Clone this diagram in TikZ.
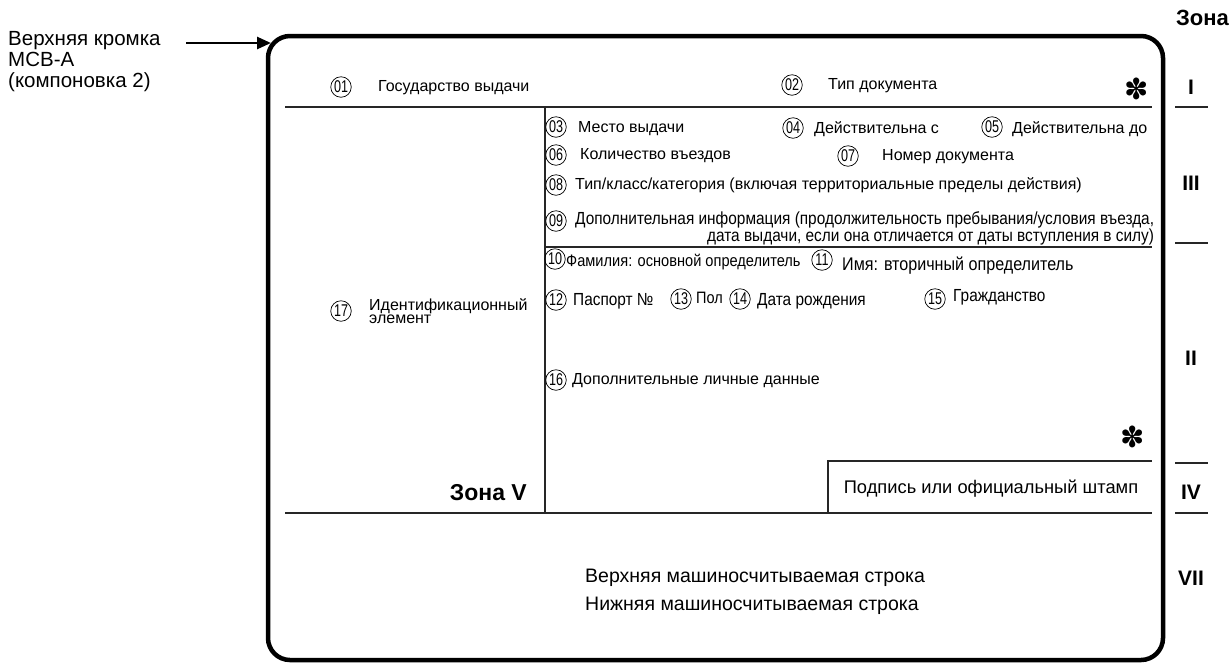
\documentclass[tikz,border=0pt]{standalone}
\usepackage{fontspec}
\setmainfont{Liberation Sans}
\newfontfamily\narrow[FakeStretch=0.88]{Liberation Sans}
\newfontfamily\digits[FakeStretch=0.74]{Liberation Sans}
\newfontfamily\symfont{DejaVu Sans}
\usetikzlibrary{arrows.meta}
\begin{document}
\begin{tikzpicture}[x=1pt,y=-1pt,
  numc/.style={circle, draw, line width=0.7, inner sep=0, minimum size=20.5,
    font=\digits\fontsize{17}{17}\selectfont},
  lbl/.style={anchor=west, inner sep=0, font=\fontsize{16}{18}\selectfont},
  nlbl/.style={anchor=west, inner sep=0, font=\narrow\fontsize{17.5}{18}\selectfont},
  zone/.style={inner sep=0, font=\bfseries\fontsize{21}{21}\selectfont},
  rule/.style={line width=1.2, black!85},
  zrule/.style={line width=1.2, black!85},
  star/.style={inner sep=0, font=\symfont\fontsize{29}{29}\selectfont}]
\useasboundingbox (0,0) rectangle (1230,665);

% document frame
\node[draw, rectangle, rounded corners=22, line width=4.5,
      minimum width=895, minimum height=624, inner sep=0] (frame) at (715.5,348) {};
\coordinate (edge) at (271,43);

% top-edge callout
\node[anchor=north west, inner sep=0, align=left,
      font=\fontsize{20.5}{21}\selectfont] (note) at (8,31)
  {Верхняя кромка\\МСВ-А\\(компоновка 2)};
\coordinate (noteend) at (186,43);
\draw[line width=2.6, -{Triangle[length=14, width=12]}] (noteend) -- (edge);

% internal rules
\coordinate (r1a) at (285,107);  \coordinate (r1b) at (1152,107);
\coordinate (r2a) at (545,247);  \coordinate (r2b) at (1152,247);
\coordinate (r3a) at (285,513);  \coordinate (r3b) at (1152,513);
\coordinate (v1a) at (545,107);  \coordinate (v1b) at (545,513);
\coordinate (sa) at (828,461);   \coordinate (sb) at (1152,461);
\coordinate (sc) at (828,513);
\draw[rule] (r1a) -- (r1b);
\draw[rule] (r2a) -- (r2b);
\draw[rule] (r3a) -- (r3b);
\draw[rule] (v1a) -- (v1b);
\draw[rule] (sc) -- (sa) -- (sb);

% zone I
\node[numc] (n01) at (341,87) {01};
\node[lbl] (t01) at (378,88) {Государство выдачи};
\node[numc] (n02) at (792,85) {02};
\node[lbl] (t02) at (828,86) {Тип документа};
\node[star] (st1) at (1137,89) {✽};

% zone III
\node[numc] (n03) at (556,127) {03};
\node[lbl] (t03) at (578,129) {Место выдачи};
\node[numc] (n04) at (793,128) {04};
\node[lbl] (t04) at (814,129) {Действительна с};
\node[numc] (n05) at (992,127) {05};
\node[lbl] (t05) at (1012,129) {Действительна до};
\node[numc] (n06) at (556,155) {06};
\node[lbl] (t06) at (580,156) {Количество въездов};
\node[numc] (n07) at (848,156) {07};
\node[lbl] (t07) at (882,157) {Номер документа};
\node[numc] (n08) at (556,185) {08};
\node[lbl] (t08) at (575,185) {Тип/класс/категория (включая территориальные пределы действия)};
\node[numc] (n09) at (556,221) {09};
\node[anchor=north west, inner sep=0, align=right,
      font=\narrow\fontsize{17.5}{14.5}\selectfont] (t09) at (575,211)
  {Дополнительная информация (продолжительность пребывания/условия въезда,\\
   дата выдачи, если она отличается от даты вступления в силу)};

% zone II
\node[numc] (n10) at (555,259) {10};
\node[nlbl, font=\narrow\fontsize{16.6}{18}\selectfont] (t10) at (566,262) {Фамилия: основной определитель};
\node[numc] (n11) at (822,260) {11};
\node[nlbl, font=\narrow\fontsize{18.3}{18}\selectfont] (t11) at (842,266) {Имя: вторичный определитель};
\node[numc] (n12) at (556,300) {12};
\node[nlbl] (t12) at (573,301) {Паспорт №};
\node[numc] (n13) at (681,299) {13};
\node[nlbl, font=\narrow\fontsize{16.5}{18}\selectfont] (t13) at (696,298) {Пол};
\node[numc] (n14) at (740,299) {14};
\node[nlbl] (t14) at (757,301) {Дата рождения};
\node[numc] (n15) at (935,299) {15};
\node[nlbl] (t15) at (953,297) {Гражданство};
\node[numc] (n16) at (556,380) {16};
\node[lbl] (t16) at (572,381) {Дополнительные личные данные};
\node[star] (st2) at (1133,437) {✽};

% zone IV
\node[inner sep=0, font=\fontsize{18.3}{18}\selectfont] (t18) at (991,489)
  {Подпись или официальный штамп};

% zone V
\node[numc] (n17) at (341,311) {17};
\node[anchor=west, inner sep=0, align=left,
      font=\fontsize{16}{12.5}\selectfont] (t17) at (369,311)
  {Идентификационный\\элемент};
\node[zone, font=\bfseries\fontsize{23}{23}\selectfont, anchor=east] (zv) at (527,493) {Зона V};

% zone VII
\node[anchor=west, inner sep=0, font=\fontsize{19.5}{20}\selectfont] (mrz1) at (585,578) {Верхняя машиносчитываемая строка};
\node[anchor=west, inner sep=0, font=\fontsize{19.5}{20}\selectfont] (mrz2) at (585,606) {Нижняя машиносчитываемая строка};

% zone index at the right
\node[zone, anchor=east, font=\bfseries\fontsize{22}{22}\selectfont] (zt) at (1229,18) {Зона};
\node[zone] (z1) at (1191,87) {I};
\node[zone] (z3) at (1191,183) {III};
\node[zone] (z2) at (1191,358) {II};
\node[zone] (z4) at (1191,492) {IV};
\node[zone] (z7) at (1191,578) {VII};
\coordinate (k1a) at (1175,107); \coordinate (k1b) at (1208,107);
\coordinate (k2a) at (1175,243); \coordinate (k2b) at (1208,243);
\coordinate (k3a) at (1175,463); \coordinate (k3b) at (1208,463);
\coordinate (k4a) at (1175,513); \coordinate (k4b) at (1208,513);
\draw[zrule] (k1a) -- (k1b);
\draw[zrule] (k2a) -- (k2b);
\draw[zrule] (k3a) -- (k3b);
\draw[zrule] (k4a) -- (k4b);
\end{tikzpicture}
\end{document}
